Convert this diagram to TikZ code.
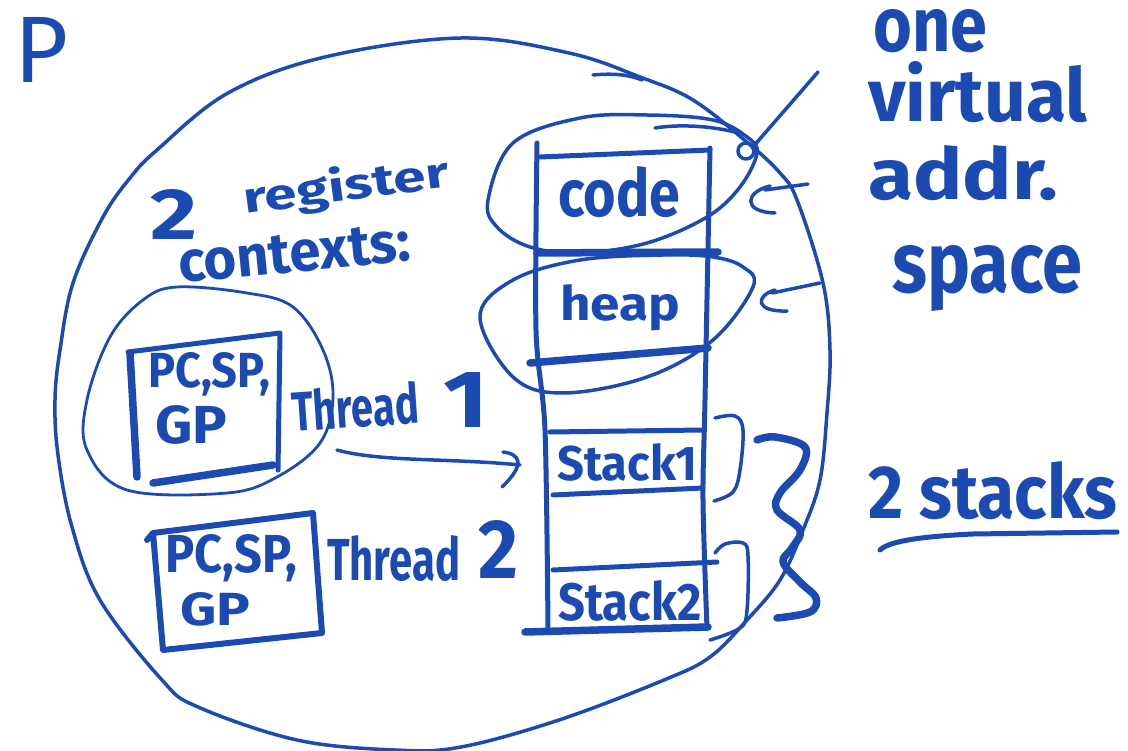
\documentclass[tikz,border=0pt]{standalone}
\usepackage{fontspec}
\setmainfont{Fira Sans}
\usepackage{graphicx}
\definecolor{ink}{RGB}{27,75,178}
\newcommand\fitbox[3]{\resizebox{#1pt}{#2pt}{#3}}
\begin{document}
\begin{tikzpicture}[x=1pt,y=-1pt,line cap=round,line join=round,draw=ink,
  txt/.style={inner sep=0pt,anchor=base west,text=ink,font=\bfseries},
  pen/.style={line width=3.5pt},
  penthin/.style={line width=2.8pt},
  penmid/.style={line width=5pt},
  penthick/.style={line width=7.5pt}]
\useasboundingbox (0,0) rectangle (1128,751);
% big process circle
\draw[pen] plot[smooth cycle,tension=0.6] coordinates {(461,38) (569,53) (640,77) (693,100) (748,143) (780,173) (797,200) (823,283) (830,350) (827,413) (820,480) (803,530) (780,580) (747,620) (710,657) (664,680) (559,720) (461,747) (395,750) (297,740) (198,707) (162,680) (100,600) (72,527) (58,455) (55,400) (60,350) (73,283) (103,217) (130,178) (157,150) (228,93) (325,57)};
\draw[pen] (593,75) .. controls (615,73) and (630,75) .. (642,80);
% pointer line with loop
\coordinate (vtip) at (752,148);
\draw[pen] (818,72) -- (vtip);
\draw[pen] (746,151) circle (8);
% code ellipse
\draw[pen] plot[smooth cycle,tension=0.6] coordinates {(488,200) (497,227) (530,247) (580,253) (647,243) (707,217) (740,187) (757,153) (747,137) (713,120) (647,115) (580,118) (513,143)};
\draw[pen] (655,128) .. controls (680,124) and (710,126) .. (735,132);
% heap ellipse
\draw[pen] plot[smooth cycle,tension=0.6] coordinates {(480,317) (513,377) (563,393) (647,377) (713,340) (753,287) (743,267) (713,257) (663,255) (580,260) (513,280)};
% column
\draw[penmid] plot[smooth,tension=0.5] coordinates {(537,143) (536,330) (545,430) (548,628)};
\draw[penmid] plot[smooth,tension=0.5] coordinates {(710,148) (705,400) (703,500) (707,628)};
\draw[penmid] (540,157) -- (710,150);
\draw[penthick] (537,253) -- (718,252);
\draw[penthick] (530,363) -- (708,348);
\draw[penmid] (550,432) -- (703,430);
\draw[penmid] (553,495) -- (703,488);
\draw[penmid] (553,570) -- (717,562);
\draw[penthick] (525,632) -- (708,627);
% brackets
\draw[pen] plot[smooth,tension=0.6] coordinates {(715,418) (735,416) (743,430) (740,470) (733,492) (714,501)};
\draw[pen] plot[smooth,tension=0.6] coordinates {(715,553) (725,544) (743,543) (748,556) (747,610) (740,628) (710,640)};
\draw[penthick] plot[smooth,tension=0.6] coordinates {(757,440) (775,437) (805,447) (800,470) (780,493) (777,510) (800,530) (792,548) (783,562) (800,582) (816,598) (810,612) (777,618)};
% register box 1 and its circle
\draw[penmid] (128,352) -- (280,333) -- (278,470);
\draw[penthick] (130,353) -- (137,477);
\draw[penthick] (153,483) -- (273,465);
\draw[penthin] plot[smooth cycle,tension=0.6] coordinates {(177,287) (247,293) (293,307) (323,350) (333,397) (320,443) (277,477) (227,493) (127,490) (87,450) (87,400) (110,337) (143,300)};
% register box 2
\draw[line width=6pt] (147,540) -- (153,533) -- (313,513) -- (322,633) -- (163,650) -- (153,533);
% texts
\node[txt,font=\normalfont] (P) at (14,83) {\fitbox{54}{65}{P}};
\node[txt] (two) at (150,240) {\fitbox{47}{50}{2}};
\node[txt,rotate=7.5] (register) at (245,214) {\fitbox{207}{35}{register}};
\node[txt,rotate=5.5] (contexts) at (180,283) {\fitbox{233}{38}{contexts:}};
\node[txt] (pc1) at (148,388) {\fitbox{122}{35}{PC,SP,}};
\node[txt] (gp1) at (155,443) {\fitbox{72}{38}{GP}};
\node[txt] (pc2) at (165,572) {\fitbox{132}{38}{PC,SP,}};
\node[txt] (gp2) at (180,625) {\fitbox{70}{33}{GP}};
\node[txt,rotate=4] (th1) at (293,432) {\fitbox{127}{42}{Thread}};
\node[txt] (n1) at (443,428) {\fitbox{45}{55}{1}};
\node[txt] (th2) at (327,580) {\fitbox{133}{45}{Thread}};
\node[txt] (n2) at (478,578) {\fitbox{40}{58}{2}};
\node[txt] (code) at (558,217) {\fitbox{122}{50}{code}};
\node[txt] (heap) at (560,321) {\fitbox{120}{36}{heap}};
\node[txt] (s1) at (557,480) {\fitbox{140}{37}{Stack1}};
\node[txt] (s2) at (558,620) {\fitbox{143}{40}{Stack2}};
\node[txt] (one) at (873,52) {\fitbox{114}{42}{one}};
\node[txt] (virtual) at (868,122) {\fitbox{219}{60}{virtual}};
\node[txt] (addr) at (868,200) {\fitbox{190}{54}{addr.}};
\node[txt] (space) at (892,293) {\fitbox{190}{47}{space}};
\node[txt] (stacks) at (868,518) {\fitbox{249}{57}{2 stacks}};
% arrow thread 1 -> stack 1
\coordinate (a1s) at (337,450);
\coordinate (a1e) at (520,465);
\draw[pen] (a1s) .. controls (380,462) and (450,458) .. (a1e);
\draw[pen] (503,452) .. controls (520,454) and (526,464) .. (502,487);
% arrows from label to ellipses
\coordinate (c1s) at (808,184);
\coordinate (c1e) at (765,190);
\draw[pen] (c1s) -- (c1e);
\draw[pen] (770,186) .. controls (745,192) and (742,212) .. (775,213);
\coordinate (c2s) at (820,283);
\coordinate (c2e) at (772,293);
\draw[pen] (c2s) -- (c2e);
\draw[pen] (775,290) .. controls (755,296) and (755,312) .. (787,311);
% underline
\draw[penmid] (880,550) .. controls (890,540) and (930,536) .. (973,534) -- (1117,532);
\end{tikzpicture}
\end{document}
